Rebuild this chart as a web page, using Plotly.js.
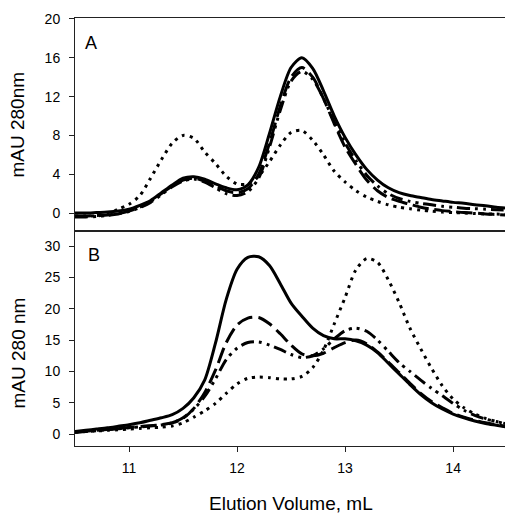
<!DOCTYPE html>
<html>
<head>
<meta charset="utf-8">
<script src="https://cdn.plot.ly/plotly-3.0.1.min.js"></script>
<style>html,body{margin:0;padding:0;background:#fff;overflow:hidden;}</style>
</head>
<body>
<div id="chart" style="width:505px;height:513px;"></div>
<script>
// Elution volume (mL)
const volume = [10.5,10.6,10.7,10.8,10.9,11.0,11.1,11.2,11.3,11.4,11.5,11.6,11.7,11.8,11.9,12.0,12.1,12.2,12.3,12.4,12.5,12.6,12.7,12.8,12.9,13.0,13.1,13.2,13.3,13.4,13.5,13.6,13.7,13.8,13.9,14.0,14.1,14.2,14.3,14.4,14.5];

// Panel A (mAU 280nm)
const aSolid   = [0.0,0.0,0.05,0.1,0.2,0.4,0.8,1.3,2.1,2.9,3.6,3.75,3.5,3.0,2.6,2.4,2.9,4.7,8.2,12.0,15.0,16.0,14.9,12.6,10.0,7.8,6.0,4.5,3.4,2.6,2.1,1.8,1.6,1.4,1.25,1.1,1.0,0.85,0.75,0.6,0.5];
const aLongDash= [-0.3,-0.3,-0.25,-0.2,-0.05,0.2,0.6,1.2,2.0,2.8,3.4,3.6,3.3,2.8,2.3,2.1,2.5,4.0,7.2,11.0,14.0,15.0,14.0,11.8,9.2,6.8,5.0,3.4,2.3,1.6,1.2,0.9,0.6,0.4,0.25,0.15,0.05,0.0,-0.1,-0.15,-0.2];
const aDashDot = [-0.4,-0.4,-0.35,-0.25,-0.1,0.15,0.55,1.1,1.9,2.7,3.3,3.5,3.2,2.6,2.0,1.8,2.2,3.6,6.8,10.6,13.6,14.6,13.8,11.8,9.4,7.2,5.4,3.9,2.8,2.0,1.5,1.2,1.0,0.85,0.7,0.6,0.5,0.45,0.4,0.35,0.3];
const aDotted  = [-0.3,-0.3,-0.3,-0.1,0.4,0.9,1.8,3.6,5.5,7.2,8.0,7.7,6.3,5.1,3.8,3.0,3.0,3.8,5.3,7.0,8.3,8.5,7.5,6.0,4.3,3.2,2.3,1.65,1.2,0.85,0.6,0.45,0.3,0.2,0.1,0.05,0.0,-0.05,-0.1,-0.1,-0.15];

// Panel B (mAU 280 nm)
const bSolid   = [0.4,0.6,0.8,1.0,1.25,1.5,1.8,2.2,2.6,3.1,4.1,5.8,8.6,14.5,21.5,26.3,28.2,28.3,26.9,24.0,20.9,18.8,16.9,15.7,15.2,15.2,14.9,14.2,13.0,11.3,9.6,7.9,6.3,5.0,4.0,3.2,2.6,2.1,1.7,1.4,1.1];
const bLongDash= [0.3,0.45,0.6,0.75,0.9,1.05,1.2,1.35,1.5,1.8,2.5,4.1,6.6,10.2,14.6,17.4,18.5,18.6,17.6,16.0,14.2,12.8,12.5,12.9,13.8,14.6,15.0,14.4,13.1,11.5,9.8,8.1,6.5,5.2,4.2,3.3,2.7,2.2,1.8,1.5,1.2];
const bDashDot = [0.3,0.4,0.55,0.7,0.85,1.0,1.15,1.3,1.45,1.8,2.6,4.0,6.0,8.8,11.9,13.7,14.6,14.7,14.2,13.5,12.7,12.2,12.5,13.6,15.2,16.5,16.9,16.4,15.0,13.2,11.4,10.0,8.6,7.3,6.1,4.9,3.8,3.0,2.4,2.0,1.6];
const bDotted  = [0.3,0.4,0.5,0.6,0.7,0.8,0.9,1.0,1.1,1.3,1.8,2.7,3.7,4.9,6.5,8.0,8.9,9.1,9.0,8.8,8.8,9.2,10.6,13.4,17.6,21.8,26.2,28.0,27.4,24.6,21.0,16.9,13.6,10.5,7.7,5.6,4.2,3.2,2.5,2.0,1.6];

const xTicks = [11,12,13,14];
const aTicks = [0,4,8,12,16,20];
const bTicks = [0,5,10,15,20,25,30];

const FONT = 'Liberation Sans, Arial, sans-serif';
const styles = [
  {dash:'solid', width:3},
  {dash:'16px,6px', width:3},
  {dash:'13px,5px,3px,5px,3px,5px', width:3},
  {dash:'3px,5px', width:3}
];

function mk(y, s, xa, ya){
  return {x: volume, y: y, type:'scatter', mode:'lines', xaxis: xa, yaxis: ya,
    line:{color:'#000', width:s.width, dash:s.dash, shape:'spline', smoothing:0.8},
    hoverinfo:'skip', showlegend:false};
}

const data = [
  mk(aSolid, styles[0], 'x2','y2'),
  mk(aLongDash, styles[1], 'x2','y2'),
  mk(aDashDot, styles[2], 'x2','y2'),
  mk(aDotted, styles[3], 'x2','y2'),
  mk(bSolid, styles[0], 'x','y'),
  mk(bLongDash, styles[1], 'x','y'),
  mk(bDashDot, styles[2], 'x','y'),
  mk(bDotted, styles[3], 'x','y')
];

const split = 215/428;
const axCommon = {showline:true, linecolor:'#222', linewidth:1, showgrid:false, zeroline:false,
  tickfont:{family:FONT, size:14, color:'#000'}, tickcolor:'#222'};

const layout = {
  width:505, height:513,
  margin:{l:75, r:0, t:18, b:67},
  paper_bgcolor:'#fff', plot_bgcolor:'#fff',
  font:{family:FONT, color:'#000'},
  xaxis: Object.assign({}, axCommon, {anchor:'y', domain:[0,1], range:[10.5,14.48], mirror:true,
    ticks:'outside', ticklen:5, tickvals:xTicks, ticktext:xTicks.map(String), ticklabelstandoff:4}),
  yaxis: Object.assign({}, axCommon, {anchor:'x', domain:[0,split], range:[-1.9,32.4],
    ticks:'outside', ticklen:5, tickvals:bTicks, ticktext:bTicks.map(String), ticklabelstandoff:6}),
  xaxis2: Object.assign({}, axCommon, {anchor:'y2', domain:[0,1], range:[10.5,14.48], mirror:true,
    ticks:'', showticklabels:false, matches:'x'}),
  yaxis2: Object.assign({}, axCommon, {anchor:'x2', domain:[split,1], range:[-1.85,20.1],
    ticks:'outside', ticklen:5, tickvals:aTicks, ticktext:aTicks.map(String), ticklabelstandoff:6}),
  annotations:[
    {text:'mAU 280nm', xref:'paper', yref:'paper', x:-0.1326, y:0.751, textangle:-90,
     showarrow:false, xanchor:'center', yanchor:'middle', font:{family:FONT, size:19}},
    {text:'mAU 280 nm', xref:'paper', yref:'paper', x:-0.1326, y:0.2185, textangle:-90,
     showarrow:false, xanchor:'center', yanchor:'middle', font:{family:FONT, size:19}},
    {text:'Elution Volume, mL', xref:'paper', yref:'paper', x:0.502, y:-0.1355,
     showarrow:false, xanchor:'center', yanchor:'middle', font:{family:FONT, size:19}},
    {text:'A', xref:'paper', yref:'paper', x:0.037, y:0.9416, showarrow:false,
     xanchor:'center', yanchor:'middle', font:{family:FONT, size:18}},
    {text:'B', xref:'paper', yref:'paper', x:0.044, y:0.446, showarrow:false,
     xanchor:'center', yanchor:'middle', font:{family:FONT, size:18}}
  ]
};

Plotly.newPlot('chart', data, layout, {staticPlot:true, displayModeBar:false});
</script>
</body>
</html>
